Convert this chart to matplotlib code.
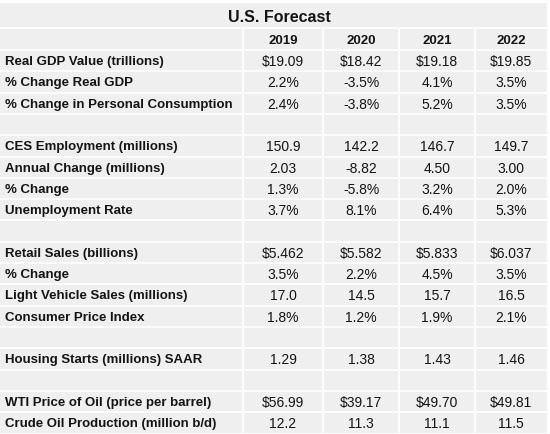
import matplotlib.pyplot as plt
from matplotlib import patches

plt.rcParams['font.family'] = ['Liberation Sans', 'DejaVu Sans']

# table content
title = "U.S. Forecast"
years = ["2019", "2020", "2021", "2022"]
labels = [
    "Real GDP Value (trillions)",
    "% Change Real GDP",
    "% Change in Personal Consumption",
    "",
    "CES Employment (millions)",
    "Annual Change (millions)",
    "% Change",
    "Unemployment Rate",
    "",
    "Retail Sales (billions)",
    "% Change",
    "Light Vehicle Sales (millions)",
    "Consumer Price Index",
    "",
    "Housing Starts (millions) SAAR",
    "",
    "WTI Price of Oil (price per barrel)",
    "Crude Oil Production (million b/d)",
]
values = [
    ["$19.09", "$18.42", "$19.18", "$19.85"],
    ["2.2%", "-3.5%", "4.1%", "3.5%"],
    ["2.4%", "-3.8%", "5.2%", "3.5%"],
    ["", "", "", ""],
    ["150.9", "142.2", "146.7", "149.7"],
    ["2.03", "-8.82", "4.50", "3.00"],
    ["1.3%", "-5.8%", "3.2%", "2.0%"],
    ["3.7%", "8.1%", "6.4%", "5.3%"],
    ["", "", "", ""],
    ["$5.462", "$5.582", "$5.833", "$6.037"],
    ["3.5%", "2.2%", "4.5%", "3.5%"],
    ["17.0", "14.5", "15.7", "16.5"],
    ["1.8%", "1.2%", "1.9%", "2.1%"],
    ["", "", "", ""],
    ["1.29", "1.38", "1.43", "1.46"],
    ["", "", "", ""],
    ["$56.99", "$39.17", "$49.70", "$49.81"],
    ["12.2", "11.3", "11.1", "11.5"],
]

# layout in pixels
col_edges = [0, 243, 323, 399, 475, 547]
top, title_bot, head_bot = 4, 29, 51
row_h = 21.3
bg = '#efefef'
txt = '#141414'

fig = plt.figure(figsize=(5.5, 4.35), dpi=100)
ax = fig.add_axes([0, 0, 1, 1])
ax.set_xlim(0, 550)
ax.set_ylim(435, 0)
ax.axis('off')

bottom = head_bot + row_h * len(labels)
ax.add_patch(patches.Rectangle((0, top), col_edges[-1], bottom - top,
                               facecolor=bg, edgecolor='none'))

# horizontal grid lines
ys = [title_bot, head_bot] + [head_bot + row_h * i for i in range(1, len(labels))]
for y in ys:
    ax.plot([0, col_edges[-1]], [y, y], color='white', lw=1.2)
# vertical grid lines
for x in col_edges[1:-1]:
    ax.plot([x, x], [title_bot, bottom], color='white', lw=1.2)

fs = 9.5
ax.text(279, (top + title_bot) / 2 + 0.5, title, ha='center', va='center',
        fontsize=11.5, fontweight='bold', color=txt)
centers = [(col_edges[i] + col_edges[i + 1]) / 2 for i in range(1, 5)]
for cx, yr in zip(centers, years):
    ax.text(cx, (title_bot + head_bot) / 2 + 0.5, yr, ha='center', va='center',
            fontsize=fs, fontweight='bold', color=txt)

for i, (lab, row) in enumerate(zip(labels, values)):
    cy = head_bot + row_h * (i + 0.5) + 0.5
    ax.text(5, cy, lab, ha='left', va='center', fontsize=fs,
            fontweight='bold', color=txt)
    for cx, v in zip(centers, row):
        ax.text(cx, cy, v, ha='center', va='center', fontsize=10, color=txt)

fig.savefig('out.png', dpi=100, facecolor='white')
